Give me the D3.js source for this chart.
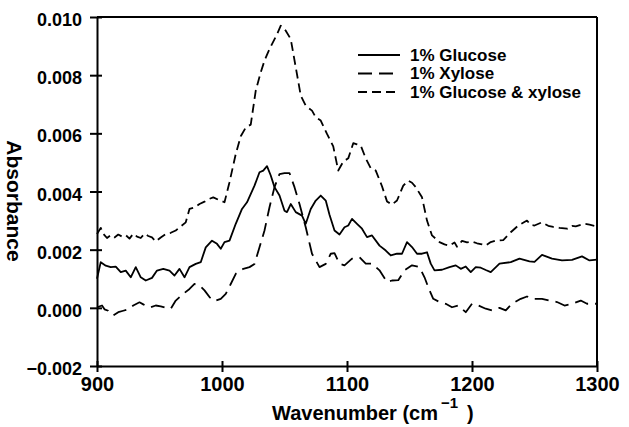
<!DOCTYPE html>
<html>
<head>
<meta charset="utf-8">
<script src="https://cdn.jsdelivr.net/npm/d3@7"></script>
<style>
  html, body { margin: 0; padding: 0; background: #fff; }
  svg { display: block; font-family: "Liberation Sans", Arial, sans-serif; font-weight: bold; }
</style>
</head>
<body>
<div id="chart"></div>
<script>
// absorbance values are in units of 0.001 as [wavenumber, value]
const glucose = [
  [900,1.00],[903,1.57],[907,1.45],[911,1.40],[915,1.42],[919,1.23],[923,1.28],[927,1.05],[931,1.40],[935,1.05],
  [939,0.94],[944,1.03],[948,1.28],[953,1.34],[958,1.28],[962,1.11],[966,1.34],[970,1.05],[974,1.40],[979,1.51],
  [983,1.57],[987,2.08],[992,2.31],[996,2.20],[999,2.03],[1002,2.26],[1006,2.31],[1011,2.89],[1016,3.40],[1020,3.63],
  [1026,4.20],[1030,4.66],[1033,4.72],[1036,4.87],[1039,4.55],[1042,4.15],[1046,3.86],[1050,3.34],[1052,3.29],[1055,3.57],
  [1059,3.29],[1064,3.17],[1067,2.89],[1071,3.40],[1075,3.69],[1079,3.86],[1083,3.69],[1086,3.20],[1090,2.66],[1094,2.52],
  [1098,2.77],[1101,2.83],[1104,3.06],[1108,2.89],[1112,2.72],[1116,2.43],[1120,2.49],[1126,2.14],[1131,1.97],[1135,1.80],
  [1140,1.86],[1144,1.86],[1148,2.26],[1152,2.09],[1156,1.86],[1160,1.86],[1164,1.91],[1167,1.52],[1170,1.29],[1176,1.31],
  [1182,1.40],[1187,1.46],[1191,1.34],[1195,1.42],[1199,1.23],[1203,1.40],[1207,1.38],[1211,1.30],[1215,1.23],[1222,1.52],
  [1231,1.57],[1238,1.69],[1246,1.60],[1250,1.58],[1256,1.82],[1264,1.69],[1272,1.63],[1280,1.65],[1288,1.77],[1294,1.63],
  [1300,1.66]
];
const xylose = [
  [900,0.02],[904,0.08],[906,-0.05],[909,-0.10],[913,-0.26],[917,-0.15],[921,-0.10],[925,-0.05],[929,0.08],[934,0.19],
  [937,0.12],[940,0.05],[943,0.02],[947,0.08],[951,0.05],[955,0.00],[959,-0.03],[963,0.25],[969,0.48],[974,0.65],
  [978,0.82],[982,0.77],[986,0.60],[990,0.37],[994,0.23],[999,0.31],[1003,0.48],[1007,0.82],[1011,1.17],[1017,1.34],
  [1022,1.40],[1026,1.51],[1030,2.08],[1034,2.66],[1038,3.46],[1042,4.15],[1046,4.60],[1050,4.63],[1054,4.63],[1058,4.15],
  [1062,3.57],[1067,2.77],[1072,1.86],[1078,1.40],[1083,1.51],[1087,1.86],[1090,1.88],[1094,1.52],[1098,1.46],[1104,1.69],
  [1110,1.74],[1115,1.52],[1120,1.52],[1126,1.29],[1132,0.89],[1136,0.94],[1141,0.95],[1146,1.29],[1152,1.46],[1158,1.40],
  [1162,1.05],[1166,0.60],[1169,0.31],[1174,0.20],[1179,0.14],[1184,0.02],[1189,0.08],[1195,-0.15],[1200,0.14],[1205,0.08],
  [1211,-0.03],[1216,-0.09],[1222,0.00],[1227,-0.09],[1232,0.14],[1239,0.31],[1244,0.39],[1248,0.31],[1256,0.31],[1262,0.25],
  [1268,0.20],[1274,0.08],[1280,0.14],[1287,0.25],[1292,0.14],[1300,0.14]
];
const glucoseXylose = [
  [900,2.54],[903,2.75],[905,2.55],[908,2.40],[911,2.50],[914,2.42],[917,2.52],[920,2.45],[923,2.50],[926,2.38],
  [929,2.55],[932,2.45],[935,2.40],[938,2.55],[941,2.47],[944,2.42],[947,2.28],[951,2.42],[955,2.54],[959,2.58],
  [963,2.66],[967,2.80],[971,2.94],[974,3.40],[978,3.45],[982,3.57],[986,3.65],[990,3.75],[993,3.80],[997,3.72],
  [1002,3.63],[1006,4.32],[1011,5.29],[1015,5.90],[1019,6.20],[1023,6.30],[1027,7.47],[1031,8.10],[1034,8.50],[1037,8.80],
  [1040,9.07],[1044,9.40],[1047,9.70],[1051,9.53],[1055,9.24],[1059,8.27],[1063,7.30],[1067,6.95],[1072,6.78],[1075,6.55],
  [1079,6.44],[1084,5.98],[1089,5.55],[1093,4.72],[1097,5.03],[1101,5.14],[1105,5.66],[1108,5.62],[1111,5.58],[1115,5.14],
  [1119,4.80],[1123,4.72],[1128,4.18],[1132,3.66],[1136,3.55],[1140,3.69],[1145,4.20],[1149,4.37],[1152,4.30],[1155,4.15],
  [1160,3.80],[1164,3.00],[1168,2.49],[1174,2.26],[1178,2.18],[1182,2.14],[1186,2.25],[1188,2.10],[1192,2.30],[1196,2.25],
  [1200,2.28],[1204,2.22],[1208,2.18],[1211,2.14],[1215,2.26],[1219,2.31],[1225,2.33],[1231,2.60],[1237,2.83],[1244,3.00],
  [1247,2.85],[1250,2.83],[1256,2.94],[1261,2.82],[1265,2.78],[1270,2.75],[1276,2.72],[1280,2.82],[1283,2.80],[1290,2.89],
  [1294,2.86],[1300,2.80]
];

const seriesNames = ["1% Glucose", "1% Xylose", "1% Glucose & xylose"];
const xTicks = [900, 1000, 1100, 1200, 1300];
const yTicks = [-0.002, 0, 0.002, 0.004, 0.006, 0.008, 0.010];

var width = 629, height = 427;
var margin = {top: 17, right: 32, bottom: 61, left: 97};

var svg = d3.select("#chart").append("svg")
  .attr("width", width).attr("height", height);

var x = d3.scaleLinear().domain([900, 1300]).range([margin.left, width - margin.right]);
var y = d3.scaleLinear().domain([-0.002, 0.010]).range([height - margin.bottom, margin.top]);

// curves
var line = d3.line()
  .x(function(d) { return x(d[0]); })
  .y(function(d) { return y(d[1] / 1000); });

var series = [
  {name: seriesNames[0], data: glucose, dash: null},
  {name: seriesNames[1], data: xylose, dash: "14,7"},
  {name: seriesNames[2], data: glucoseXylose, dash: "9,5"}
];

svg.append("g").selectAll("path")
  .data(series)
  .enter().append("path")
  .attr("d", function(d) { return line(d.data); })
  .attr("fill", "none")
  .attr("stroke", "#000")
  .attr("stroke-width", 1.8)
  .attr("stroke-linejoin", "round")
  .attr("stroke-dasharray", function(d) { return d.dash; });

// frame top and right
svg.append("line")
  .attr("x1", x(900)).attr("x2", x(1300)).attr("y1", y(0.010)).attr("y2", y(0.010))
  .attr("stroke", "#000").attr("stroke-width", 2);
svg.append("line")
  .attr("x1", x(1300)).attr("x2", x(1300)).attr("y1", y(0.010)).attr("y2", y(-0.002))
  .attr("stroke", "#000").attr("stroke-width", 2);

// axes, ticks cross the axis line
var xAxis = svg.append("g")
  .attr("transform", "translate(0," + y(-0.002) + ")")
  .call(d3.axisBottom(x).tickValues(xTicks).tickFormat(d3.format("d")).tickSize(6).tickSizeOuter(0).tickPadding(5));
xAxis.selectAll(".tick line").attr("y1", -5);
xAxis.selectAll("text").attr("font-size", 20);

var yAxis = svg.append("g")
  .attr("transform", "translate(" + x(900) + ",0)")
  .call(d3.axisLeft(y).tickValues(yTicks).tickFormat(d3.format(".3f")).tickSize(7).tickSizeOuter(0).tickPadding(8));
yAxis.selectAll(".tick line").attr("x1", 5);
yAxis.selectAll("text").attr("font-size", 18).attr("dy", "0.48em");

svg.selectAll(".domain, .tick line").attr("stroke", "#000").attr("stroke-width", 2);
svg.selectAll(".tick text").attr("fill", "#000").attr("font-family", "Liberation Sans, Arial, sans-serif").attr("font-weight", "bold");

// axis titles
var xt = svg.append("text")
  .attr("x", 272).attr("y", 420)
  .attr("font-size", 20);
xt.append("tspan").text("Wavenumber (cm");
xt.append("tspan").attr("dy", -12).attr("dx", 3).attr("font-size", 15).text("\u22121");
xt.append("tspan").attr("dy", 12).attr("dx", 9).attr("font-size", 20).text(")");

svg.append("text")
  .attr("transform", "translate(14,201) rotate(90)")
  .attr("text-anchor", "middle")
  .attr("dy", "0.35em")
  .attr("font-size", 21)
  .text("Absorbance");

// legend
var legend = svg.append("g").attr("transform", "translate(358,55)");
var item = legend.selectAll("g")
  .data(series)
  .enter().append("g")
  .attr("transform", function(d, i) { return "translate(0," + (i * 18.5) + ")"; });
item.append("line")
  .attr("x1", 0).attr("x2", 42)
  .attr("stroke", "#000").attr("stroke-width", 1.8)
  .attr("stroke-dasharray", function(d) { return d.dash; });
item.append("text")
  .attr("x", 52).attr("dy", "0.35em")
  .attr("font-size", 17)
  .text(function(d) { return d.name; });
</script>
</body>
</html>
